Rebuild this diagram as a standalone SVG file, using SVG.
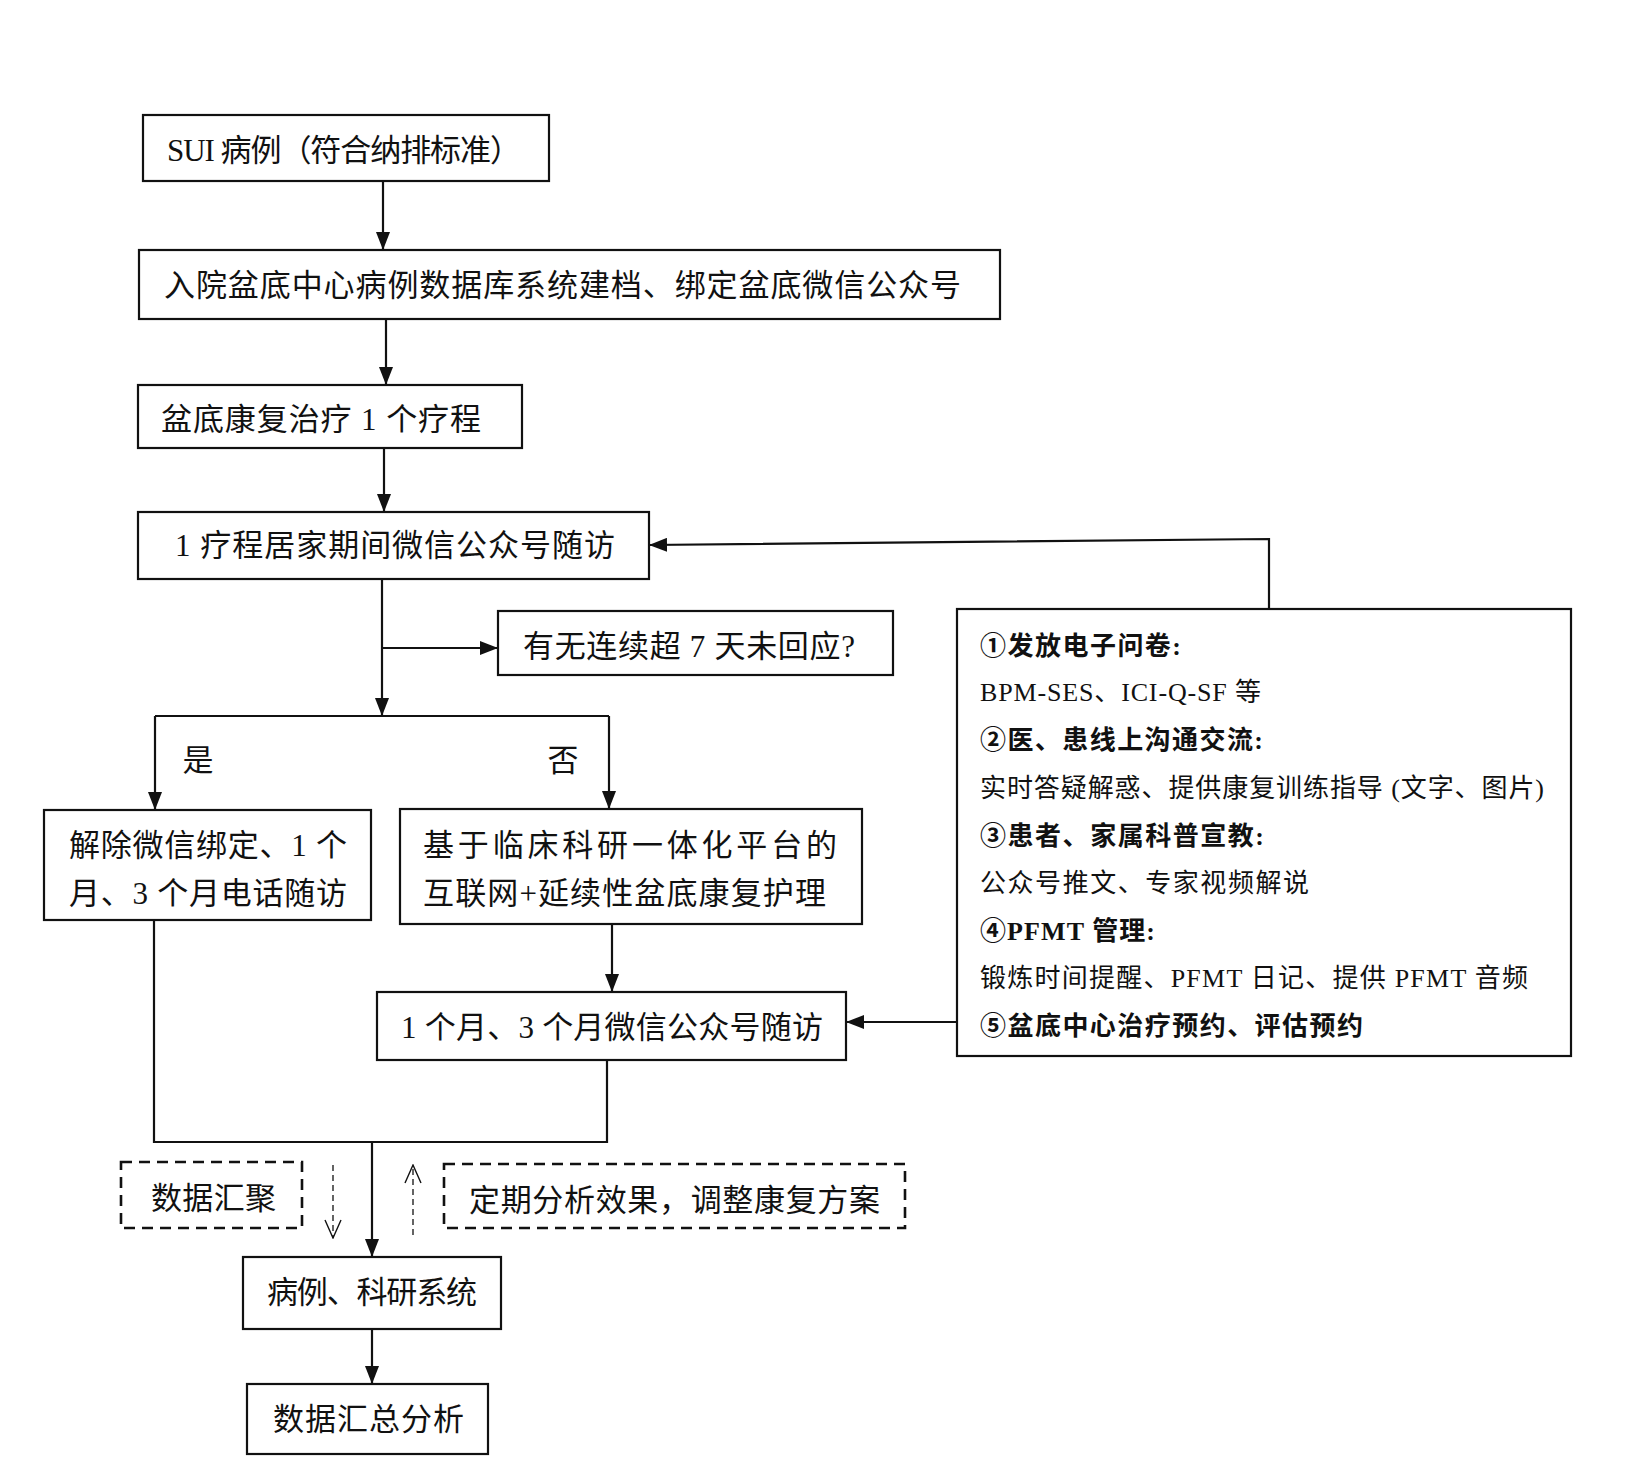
<svg xmlns="http://www.w3.org/2000/svg" width="1634" height="1459" viewBox="0 0 1634 1459">
<defs>
<style>
.box{fill:#fff;stroke:#111;stroke-width:2.2}
.dbox{fill:none;stroke:#111;stroke-width:2.6;stroke-dasharray:11 7}
.t{font-family:"Liberation Serif","Noto Sans CJK SC",serif;font-size:31px;fill:#111}
.s{font-family:"Liberation Serif","Noto Sans CJK SC",serif;font-size:26px;fill:#111}
.b{font-weight:700}
.ln{fill:none;stroke:#111;stroke-width:2.2}
.dl{fill:none;stroke:#111;stroke-width:1.3;stroke-dasharray:6 4}
</style>
<marker id="ah" viewBox="0 0 18 14" refX="18" refY="7" markerWidth="18" markerHeight="14" markerUnits="userSpaceOnUse" orient="auto"><path d="M0,0 L18,7 L0,14 z" fill="#111"/></marker>
<marker id="oh" viewBox="0 0 20 18" refX="19" refY="9" markerWidth="20" markerHeight="18" markerUnits="userSpaceOnUse" orient="auto"><path d="M1,1 L19,9 L1,17" fill="none" stroke="#111" stroke-width="1.4"/></marker>
</defs>
<rect width="1634" height="1459" fill="#fff"/>
<g id="connectors">
<line class="ln" x1="383" y1="181" x2="383" y2="250" marker-end="url(#ah)"/>
<line class="ln" x1="386" y1="319" x2="386" y2="385" marker-end="url(#ah)"/>
<line class="ln" x1="384" y1="448" x2="384" y2="512" marker-end="url(#ah)"/>
<polyline class="ln" points="1269,609 1269,539 649,545" marker-end="url(#ah)"/>
<line class="ln" x1="382" y1="579" x2="382" y2="716" marker-end="url(#ah)"/>
<line class="ln" x1="382" y1="648" x2="498" y2="648" marker-end="url(#ah)"/>
<line class="ln" x1="155" y1="716" x2="609" y2="716"/>
<line class="ln" x1="155" y1="716" x2="155" y2="810" marker-end="url(#ah)"/>
<line class="ln" x1="609" y1="716" x2="609" y2="809" marker-end="url(#ah)"/>
<line class="ln" x1="612" y1="924" x2="612" y2="992" marker-end="url(#ah)"/>
<line class="ln" x1="957" y1="1022" x2="846" y2="1022" marker-end="url(#ah)"/>
<polyline class="ln" points="154,920 154,1142 607,1142 607,1060"/>
<line class="ln" x1="372" y1="1142" x2="372" y2="1257" marker-end="url(#ah)"/>
<line class="dl" x1="333" y1="1165" x2="333" y2="1238" marker-end="url(#oh)"/>
<line class="dl" x1="413" y1="1235" x2="413" y2="1165" marker-end="url(#oh)"/>
<line class="ln" x1="372" y1="1329" x2="372" y2="1384" marker-end="url(#ah)"/>
<text class="t" x="198" y="771" text-anchor="middle">是</text>
<text class="t" x="563" y="771" text-anchor="middle">否</text>
</g>
<g id="n1"><rect class="box" x="143" y="115" width="406" height="66"/><text class="t" x="167" y="161" textLength="354">SUI 病例（符合纳排标准）</text></g>
<g id="n2"><rect class="box" x="139" y="250" width="861" height="69"/><text class="t" x="164" y="296" textLength="797">入院盆底中心病例数据库系统建档、绑定盆底微信公众号</text></g>
<g id="n3"><rect class="box" x="138" y="385" width="384" height="63"/><text class="t" x="161" y="430" textLength="320">盆底康复治疗 1 个疗程</text></g>
<g id="n4"><rect class="box" x="138" y="512" width="511" height="67"/><text class="t" x="175" y="556" textLength="440">1 疗程居家期间微信公众号随访</text></g>
<g id="n5"><rect class="box" x="498" y="611" width="395" height="64"/><text class="t" x="523" y="657" textLength="332">有无连续超 7 天未回应?</text></g>
<g id="n6"><rect class="box" x="44" y="810" width="327" height="110"/><text class="t" x="69" y="856" textLength="278">解除微信绑定、1 个</text><text class="t" x="69" y="904" textLength="278">月、3 个月电话随访</text></g>
<g id="n7"><rect class="box" x="400" y="809" width="462" height="115"/><text class="t" x="423" y="856" textLength="414">基于临床科研一体化平台的</text><text class="t" x="423" y="904" textLength="403">互联网+延续性盆底康复护理</text></g>
<g id="n8"><rect class="box" x="377" y="992" width="469" height="68"/><text class="t" x="401" y="1038" textLength="422">1 个月、3 个月微信公众号随访</text></g>
<g id="n9"><rect class="box" x="957" y="609" width="614" height="447"/>
<text class="s b" x="980" y="655" textLength="201">①发放电子问卷:</text>
<text class="s" x="980" y="701" textLength="281">BPM-SES、ICI-Q-SF 等</text>
<text class="s b" x="980" y="749" textLength="283">②医、患线上沟通交流:</text>
<text class="s" x="980" y="797" textLength="564">实时答疑解惑、提供康复训练指导 (文字、图片)</text>
<text class="s b" x="980" y="845" textLength="284">③患者、家属科普宣教:</text>
<text class="s" x="980" y="892" textLength="329">公众号推文、专家视频解说</text>
<text class="s b" x="980" y="940" textLength="175">④PFMT 管理:</text>
<text class="s" x="980" y="987" textLength="548">锻炼时间提醒、PFMT 日记、提供 PFMT 音频</text>
<text class="s b" x="980" y="1035" textLength="383">⑤盆底中心治疗预约、评估预约</text>
</g>
<g id="n10"><rect class="dbox" x="121" y="1162" width="181" height="66"/><text class="t" x="151" y="1209" textLength="125">数据汇聚</text></g>
<g id="n11"><rect class="dbox" x="444" y="1164" width="461" height="64"/><text class="t" x="469" y="1211" textLength="411">定期分析效果，调整康复方案</text></g>
<g id="n12"><rect class="box" x="243" y="1257" width="258" height="72"/><text class="t" x="267" y="1303" textLength="210">病例、科研系统</text></g>
<g id="n13"><rect class="box" x="247" y="1384" width="241" height="70"/><text class="t" x="273" y="1430" textLength="191">数据汇总分析</text></g>
</svg>
